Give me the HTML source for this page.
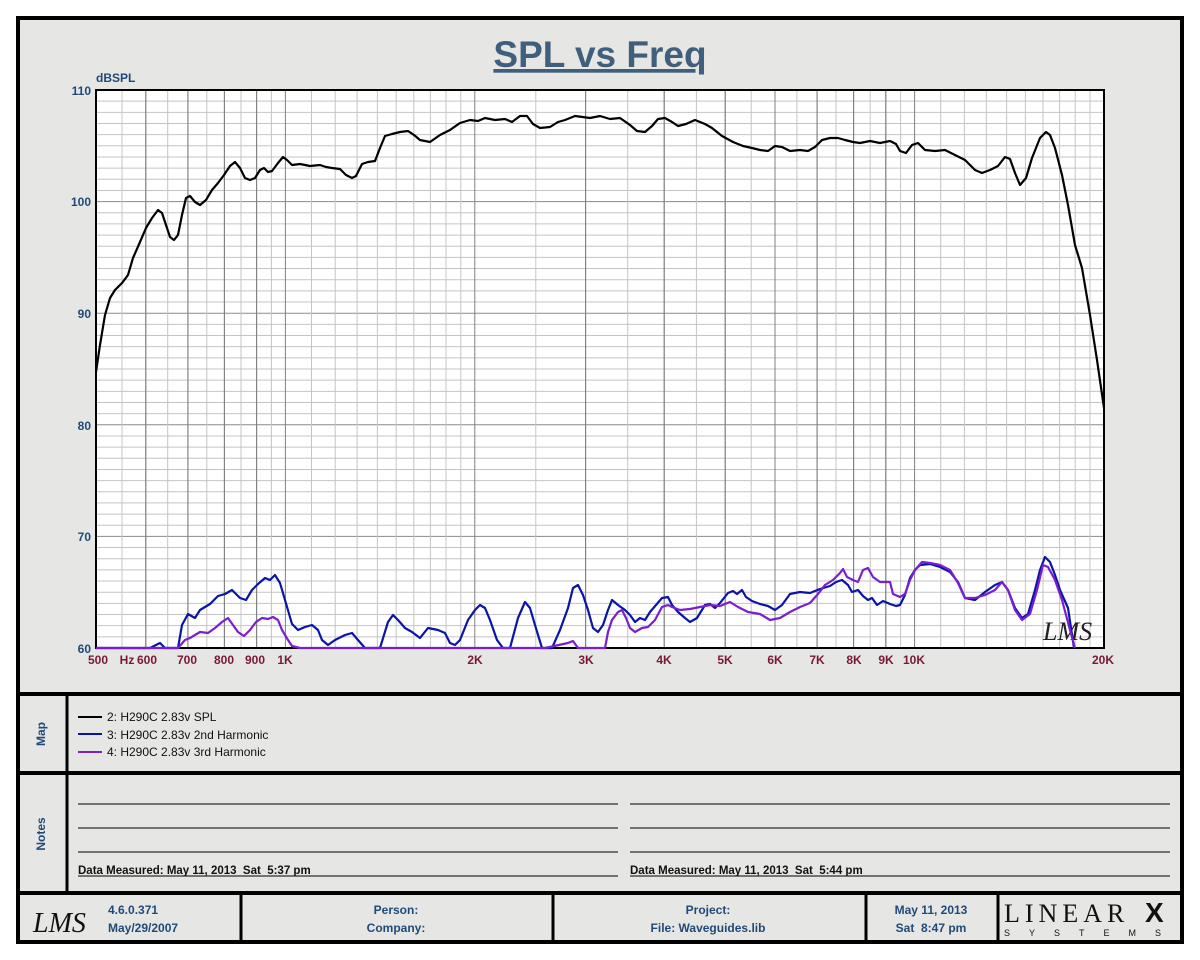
<!DOCTYPE html>
<html><head><meta charset="utf-8"><style>
body{margin:0;background:#fff;}
svg{display:block;font-family:"Liberation Sans",sans-serif;}
.b{font-weight:bold;fill:#1f4a78;font-size:12px;}
.xl{font-weight:bold;fill:#7a1838;font-size:12px;}
.lg{font-size:12px;fill:#111;}
text{white-space:pre;}
</style></head><body>
<svg id="s" width="1200" height="960" viewBox="0 0 1200 960" xmlns="http://www.w3.org/2000/svg" xml:space="preserve">
<rect width="1200" height="960" fill="#fff"/>
<rect x="18" y="18" width="1164" height="924" fill="#e6e6e4" stroke="#000" stroke-width="4"/>
<line x1="18" y1="694" x2="1182" y2="694" stroke="#000" stroke-width="4"/>
<line x1="18" y1="773" x2="1182" y2="773" stroke="#000" stroke-width="4"/>
<line x1="18" y1="893" x2="1182" y2="893" stroke="#000" stroke-width="4"/>
<line x1="67" y1="694" x2="67" y2="893" stroke="#000" stroke-width="3"/>
<g stroke="#000" stroke-width="3"><line x1="241" y1="893" x2="241" y2="942"/><line x1="553" y1="893" x2="553" y2="942"/><line x1="866" y1="893" x2="866" y2="942"/><line x1="998" y1="893" x2="998" y2="942"/></g>
<text x="600" y="67" text-anchor="middle" font-size="37" font-weight="bold" fill="#3f5f7c" text-decoration="underline">SPL vs Freq</text>
<rect x="96" y="90" width="1008" height="558" fill="#fff"/>
<g id="grid"></g>
<rect x="96" y="90" width="1008" height="558" fill="none" stroke="#000" stroke-width="2"/>
<text x="96" y="82" class="b" font-size="12">dBSPL</text>
<g class="b" text-anchor="end"><text x="91" y="95">110</text><text x="91" y="206">100</text><text x="91" y="318">90</text><text x="91" y="430">80</text><text x="91" y="541">70</text><text x="91" y="653">60</text></g>
<g class="xl" text-anchor="middle"><text x="98" y="664">500</text><text x="127" y="664">Hz</text><text x="147" y="664">600</text><text x="187" y="664">700</text><text x="224" y="664">800</text><text x="255" y="664">900</text><text x="285" y="664">1K</text><text x="475" y="664">2K</text><text x="586" y="664">3K</text><text x="664" y="664">4K</text><text x="725" y="664">5K</text><text x="775" y="664">6K</text><text x="817" y="664">7K</text><text x="854" y="664">8K</text><text x="886" y="664">9K</text><text x="914" y="664">10K</text><text x="1103" y="664">20K</text></g>
<text x="1043" y="640" font-size="26" font-style="italic" font-family="Liberation Serif,serif" fill="#222">LMS</text>
<g fill="none" stroke-width="2.2" stroke-linejoin="round">
<polyline stroke="#0a14a8" points="96,648 150,648 160,643 165,648 178,648 182,625 188,614 195,618 200,610 210,604 218,596 225,594 232,590 240,598 246,600 252,590 258,584 265,578 270,580 275,575 280,583 285,600 292,624 298,630 305,627 312,625 318,630 322,640 328,645 335,640 345,635 352,633 358,640 365,648 380,648 388,622 393,615 398,620 405,628 412,632 420,638 428,628 438,630 445,633 450,643 455,645 460,640 468,620 475,610 480,605 485,608 490,620 497,640 503,648 510,648 518,618 525,602 530,608 535,625 542,648 552,648 560,630 568,608 573,588 578,585 583,595 588,610 593,628 598,632 603,625 608,610 612,600 618,605 625,610 630,615 635,622 640,618 645,620 650,612 656,605 662,598 668,597 672,605 678,612 685,618 690,622 697,618 705,605 710,604 715,608 720,603 728,593 733,591 737,594 742,590 746,597 752,601 760,604 768,606 775,610 782,605 790,594 800,592 810,593 820,589 830,586 836,582 842,580 848,585 852,592 858,590 863,596 868,600 872,598 877,605 883,601 890,604 896,606 900,605 905,595 910,578 915,570 920,565 930,564 940,567 950,572 958,582 965,598 975,600 985,592 995,585 1002,582 1008,590 1015,608 1022,618 1028,614 1035,590 1040,570 1045,557 1050,562 1055,575 1060,590 1068,608 1074,648"/>
<polyline stroke="#7a1ed0" points="96,648 178,648 185,640 190,638 195,635 200,632 208,633 215,628 222,622 228,618 233,625 238,632 244,636 250,630 256,622 262,618 268,619 273,617 278,620 282,630 288,640 292,646 300,648 545,648 568,643 573,641 578,648 605,648 608,632 612,620 618,612 622,610 626,618 630,628 635,632 642,628 648,627 655,620 662,607 668,605 672,607 680,610 690,609 700,607 710,605 720,606 730,602 738,607 748,612 760,614 770,620 780,618 790,612 800,607 810,603 818,594 825,585 833,580 840,573 843,569 847,577 853,580 858,582 863,570 868,568 873,577 880,582 890,582 893,594 900,597 905,594 910,580 915,570 922,562 930,563 940,565 950,570 958,583 965,598 975,598 985,595 995,590 1002,582 1008,590 1015,610 1022,620 1030,614 1037,590 1043,565 1048,567 1055,580 1062,600 1070,630 1075,648"/>
<polyline stroke="#000" points="96,372 100,345 105,315 110,298 115,290 122,283 128,275 133,258 140,242 146,228 152,218 158,210 162,213 166,225 170,237 174,240 178,235 182,215 186,198 190,196 195,202 200,205 206,200 212,190 218,183 224,175 230,166 235,162 240,168 245,178 250,180 255,178 260,170 264,168 268,172 272,171 278,163 283,157 287,160 292,165 300,164 310,166 320,165 326,167 332,168 340,169 346,175 352,178 356,176 362,164 368,162 375,161 380,148 385,136 392,134 400,132 408,131 414,135 420,140 430,142 440,135 450,130 460,123 470,120 478,121 485,118 495,120 505,119 512,122 520,116 527,116 533,124 540,128 550,127 558,122 565,120 575,116 590,118 600,116 610,119 620,118 630,125 637,131 645,132 652,126 658,119 665,118 672,122 678,126 686,124 695,120 705,124 712,128 722,136 733,142 743,146 752,148 760,150 768,151 775,146 782,147 790,151 800,150 808,151 815,147 822,140 830,138 838,138 845,140 853,142 860,143 870,141 880,143 890,141 896,144 900,151 906,153 912,145 918,143 925,150 935,151 945,150 955,155 965,160 975,170 982,173 990,170 998,166 1005,157 1010,159 1015,173 1020,185 1026,178 1032,158 1040,138 1046,132 1050,135 1055,148 1062,175 1068,205 1075,245 1082,268 1090,315 1097,360 1104,408"/>
</g>
<text transform="translate(45,734) rotate(-90)" class="b" text-anchor="middle">Map</text>
<text transform="translate(45,834) rotate(-90)" class="b" text-anchor="middle">Notes</text>
<g stroke-width="2"><line x1="78" y1="717" x2="102" y2="717" stroke="#000"/><line x1="78" y1="734" x2="102" y2="734" stroke="#0a14a8"/><line x1="78" y1="752" x2="102" y2="752" stroke="#7a1ed0"/></g>
<g class="lg"><text x="107" y="721">2: H290C 2.83v SPL</text><text x="107" y="739">3: H290C 2.83v 2nd Harmonic</text><text x="107" y="756">4: H290C 2.83v 3rd Harmonic</text></g>
<g stroke="#000" stroke-width="1"><line x1="78" y1="804" x2="618" y2="804"/><line x1="78" y1="828" x2="618" y2="828"/><line x1="78" y1="852" x2="618" y2="852"/><line x1="78" y1="876" x2="618" y2="876"/><line x1="630" y1="804" x2="1170" y2="804"/><line x1="630" y1="828" x2="1170" y2="828"/><line x1="630" y1="852" x2="1170" y2="852"/><line x1="630" y1="876" x2="1170" y2="876"/></g>
<g font-size="11.5" font-weight="bold" fill="#111"><text x="78" y="874">Data Measured: May 11, 2013  Sat  5:37 pm</text><text x="630" y="874">Data Measured: May 11, 2013  Sat  5:44 pm</text></g>
<text x="33" y="932" font-size="28" font-style="italic" font-family="Liberation Serif,serif" fill="#111">LMS</text>
<g class="b"><text x="108" y="914">4.6.0.371</text><text x="108" y="932">May/29/2007</text></g>
<g class="b" text-anchor="middle"><text x="396" y="914">Person:</text><text x="396" y="932">Company:</text><text x="708" y="914">Project:</text><text x="708" y="932">File: Waveguides.lib</text><text x="931" y="914">May 11, 2013</text><text x="931" y="932">Sat  8:47 pm</text></g>
<text x="1004" y="922" font-size="26" font-family="Liberation Serif,serif" fill="#111" letter-spacing="5">LINEAR</text>
<text x="1145" y="922" font-size="28" font-weight="bold" fill="#111">X</text>
<text x="1004" y="936" font-size="9" fill="#111" letter-spacing="19">SYSTEMS</text>
</svg>
<script>
var g=document.getElementById('grid'),h='';
function X(f){return 96+629.2*Math.log10(f/500);}
for(var k=1;k<50;k++){var y=90+k*11.16;h+='<line x1="96" x2="1104" y1="'+y+'" y2="'+y+'" stroke="'+(k%10==0?'#8a8a8a':'#c4c4c4')+'" stroke-width="1"/>';}
var fs=[],maj=[600,700,800,900,1000,2000,3000,4000,5000,6000,7000,8000,9000,10000];
for(var f=550;f<1000;f+=50)fs.push(f);
for(f=1100;f<2000;f+=100)fs.push(f);
for(f=2500;f<10000;f+=500)fs.push(f);
for(f=11000;f<20000;f+=1000)fs.push(f);
fs=fs.concat(maj);
fs.forEach(function(f){var x=X(f).toFixed(1);var m=maj.indexOf(f)>=0;h+='<line y1="90" y2="648" x1="'+x+'" x2="'+x+'" stroke="'+(m?'#808080':'#c4c4c4')+'" stroke-width="1"/>';});
g.innerHTML=h;
</script>
</body></html>
